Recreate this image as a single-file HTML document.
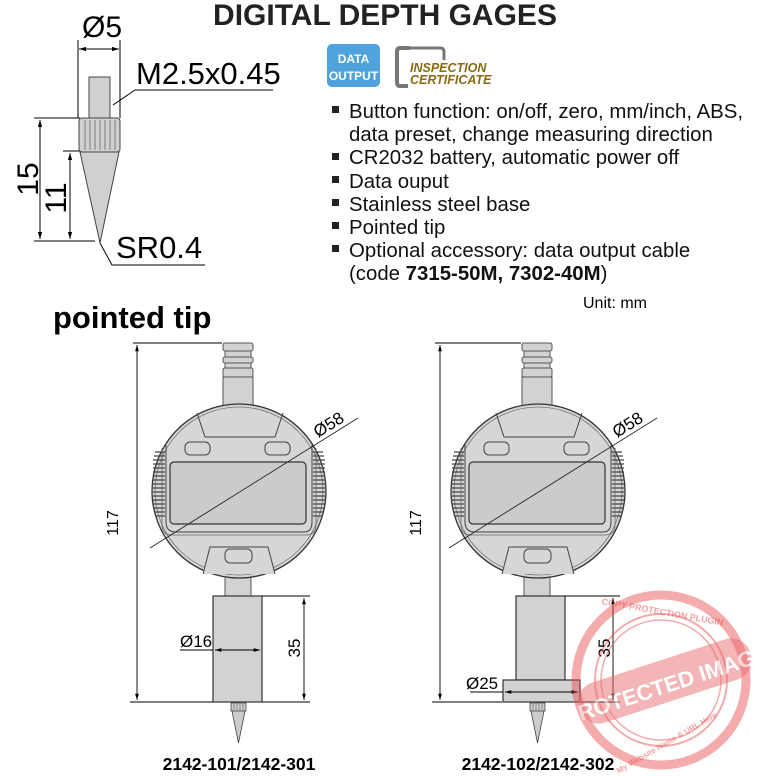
<!DOCTYPE html>
<html><head><meta charset="utf-8"><style>
html,body{margin:0;padding:0;background:#fff;width:777px;height:777px;overflow:hidden}
svg{display:block}
text{font-family:"Liberation Sans",Arial,sans-serif}
</style></head><body>
<svg width="777" height="777" viewBox="0 0 777 777" xmlns="http://www.w3.org/2000/svg">
<defs>
<marker id="a" viewBox="0 0 10 10" refX="10" refY="5" markerWidth="7" markerHeight="7" orient="auto-start-reverse"><path d="M0,2 L10,5 L0,8 z" fill="#000"/></marker>
<g id="gage">
 <rect x="223" y="377" width="30" height="30" fill="#d2d2d2" stroke="#555" stroke-width="1"/>
 <rect x="223" y="343" width="30" height="8" rx="2" fill="#d2d2d2" stroke="#555"/>
 <rect x="225" y="351" width="26" height="6" fill="#d2d2d2" stroke="#555"/>
 <rect x="223" y="357" width="30" height="6" rx="2" fill="#d2d2d2" stroke="#555"/>
 <rect x="225" y="363" width="26" height="5" fill="#d2d2d2" stroke="#555"/>
 <rect x="223" y="368" width="30" height="9" rx="2" fill="#d2d2d2" stroke="#555"/>
 <rect x="225" y="570" width="26" height="27" fill="#d2d2d2" stroke="#555"/>
 <circle cx="239" cy="491" r="87" fill="#d6d6d6" stroke="#333" stroke-width="1.3"/>
 <circle cx="239" cy="491" r="84" fill="none" stroke="#777" stroke-width="0.8"/>
 <g stroke="#444" stroke-width="1.2">
  <path d="M155,452h10M154,456h11M153,460h12M153,464h12M153,468h12M153,472h12M153,476h12M153,480h12M153,484h12M153,488h12M153,492h12M153,496h12M153,500h12M153,504h12M153,508h12M154,512h11M155,516h10"/>
  <path d="M313,452h10M313,456h11M313,460h12M313,464h12M313,468h12M313,472h12M313,476h12M313,480h12M313,484h12M313,488h12M313,492h12M313,496h12M313,500h12M313,504h12M313,508h12M313,512h11M313,516h10"/>
 </g>
 <path d="M197,413 L205,437 L275,437 L283,413" fill="none" stroke="#444"/>
 <path d="M166,445 L166,522 Q166,532 176,532 L304,532 Q312,532 312,522 L312,445" fill="none" stroke="#444"/>
 <path d="M162,448 L162,525 Q162,535 172,535 L306,535 Q316,535 316,525 L316,448" fill="none" stroke="#666" stroke-width="0.8"/>
 <rect x="185" y="442" width="25" height="13" rx="5" fill="#d6d6d6" stroke="#444"/>
 <rect x="265" y="442" width="25" height="13" rx="5" fill="#d6d6d6" stroke="#444"/>
 <rect x="170" y="462" width="136" height="62" rx="4" fill="#cbcbcb" stroke="#333" stroke-width="1.2"/>
 <path d="M203,574 L210,547 L268,547 L275,574" fill="#d6d6d6" stroke="#444"/>
 <rect x="225" y="549" width="27" height="14" rx="5" fill="#d6d6d6" stroke="#444"/>
 <line x1="150" y1="548" x2="358" y2="418" stroke="#222" stroke-width="0.9"/>
 <text x="318" y="438" font-size="17" transform="rotate(-32 318 438)">Ø58</text>
 <rect x="231" y="703" width="15" height="8" fill="#ccc" stroke="#444" stroke-width="0.8"/>
 <path d="M234,704v6M237,704v6M240,704v6M243,704v6" stroke="#666" stroke-width="0.6"/>
 <path d="M232,711 L245,711 L238.5,743 z" fill="#ccc" stroke="#444" stroke-width="0.8"/>
</g>
</defs>

<text x="385" y="25" font-size="30" font-weight="bold" text-anchor="middle" fill="#222">DIGITAL DEPTH GAGES</text>

<g stroke="#000" stroke-width="1" fill="none">
 <line x1="78" y1="40" x2="78" y2="118"/>
 <line x1="120" y1="40" x2="120" y2="118"/>
 <line x1="79" y1="49" x2="119" y2="49" marker-start="url(#a)" marker-end="url(#a)"/>
 <polyline points="113,105 135,90 273,90"/>
 <line x1="34" y1="118" x2="80" y2="118"/>
 <line x1="34" y1="241" x2="95" y2="241"/>
 <line x1="63" y1="151" x2="80" y2="151"/>
 <line x1="40" y1="120" x2="40" y2="239" marker-start="url(#a)" marker-end="url(#a)"/>
 <line x1="70" y1="153" x2="70" y2="239" marker-start="url(#a)" marker-end="url(#a)"/>
 <polyline points="100,243 112,265 205,265"/>
</g>
<rect x="89" y="77" width="21" height="41" fill="#d0d0d0" stroke="#444"/>
<rect x="79" y="118" width="41" height="34" rx="3" fill="#d0d0d0" stroke="#444"/>
<path d="M85,120v30M90,120v30M95,120v30M100,120v30M105,120v30M110,120v30M115,120v30" stroke="#666" stroke-width="0.8"/>
<path d="M80,152 L119,152 L100,243 Z" fill="#d0d0d0" stroke="#444"/>
<text x="82" y="37" font-size="30">Ø5</text>
<text x="136" y="84" font-size="31">M2.5x0.45</text>
<text x="116" y="258" font-size="31">SR0.4</text>
<text x="38" y="179" font-size="30" text-anchor="middle" transform="rotate(-90 38 179)">15</text>
<text x="66" y="198" font-size="30" text-anchor="middle" transform="rotate(-90 66 198)">11</text>

<rect x="327" y="44" width="53" height="43" rx="5" fill="#4ea3dd"/>
<text x="353.5" y="63" font-size="12" font-weight="bold" fill="#fff" text-anchor="middle">DATA</text>
<text x="353.5" y="80" font-size="12" font-weight="bold" fill="#fff" text-anchor="middle">OUTPUT</text>
<path d="M410,48 L400,48 Q397,48 397,52 L397,82 Q397,86 400,86 L408,86" fill="none" stroke="#777" stroke-width="4"/>
<path d="M400,48 L440,48 Q444,48 444,52 L444,60" fill="none" stroke="#777" stroke-width="3"/>
<text x="410" y="72" font-size="12.5" font-weight="bold" font-style="italic" fill="#8a6a10">INSPECTION</text>
<text x="410" y="84" font-size="12.5" font-weight="bold" font-style="italic" fill="#8a6a10">CERTIFICATE</text>

<g font-size="20.4" fill="#111">
 <rect x="332" y="106" width="7" height="7" fill="#222"/>
 <text x="349" y="118">Button function: on/off, zero, mm/inch, ABS,</text>
 <text x="349" y="141">data preset, change measuring direction</text>
 <rect x="332" y="153" width="7" height="7" fill="#222"/>
 <text x="349" y="164">CR2032 battery, automatic power off</text>
 <rect x="332" y="176" width="7" height="7" fill="#222"/>
 <text x="349" y="188">Data ouput</text>
 <rect x="332" y="199" width="7" height="7" fill="#222"/>
 <text x="349" y="211">Stainless steel base</text>
 <rect x="332" y="222" width="7" height="7" fill="#222"/>
 <text x="349" y="234">Pointed tip</text>
 <rect x="332" y="245" width="7" height="7" fill="#222"/>
 <text x="349" y="257">Optional accessory: data output cable</text>
 <text x="349" y="280">(code <tspan font-weight="bold">7315-50M, 7302-40M</tspan>)</text>
</g>
<text x="583" y="308" font-size="16">Unit: mm</text>
<text x="53" y="328" font-size="31" font-weight="bold">pointed tip</text>

<use href="#gage"/>
<rect x="213" y="596" width="49" height="106" fill="#d2d2d2" stroke="#333" stroke-width="1.2"/>
<g stroke="#000" stroke-width="0.9" fill="none">
 <line x1="133" y1="343" x2="222" y2="343"/>
 <line x1="130" y1="702" x2="213" y2="702"/>
 <line x1="137" y1="345" x2="137" y2="700" marker-start="url(#a)" marker-end="url(#a)"/>
 <line x1="262" y1="596" x2="310" y2="596"/>
 <line x1="262" y1="702" x2="310" y2="702"/>
 <line x1="304" y1="598" x2="304" y2="700" marker-start="url(#a)" marker-end="url(#a)"/>
 <line x1="180" y1="650" x2="213" y2="650"/>
 <line x1="215" y1="650" x2="260" y2="650" marker-start="url(#a)" marker-end="url(#a)"/>
</g>
<text x="118" y="523" font-size="16" text-anchor="middle" transform="rotate(-90 118 523)">117</text>
<text x="180" y="647" font-size="17">Ø16</text>
<text x="303" y="648" font-size="17" text-anchor="middle" transform="rotate(-90 303 648)" dy="-3">35</text>
<text x="239" y="770" font-size="17.5" font-weight="bold" text-anchor="middle">2142-101/2142-301</text>

<use href="#gage" transform="translate(299,0)"/>
<rect x="516" y="596" width="49" height="84" fill="#d2d2d2" stroke="#333" stroke-width="1.2"/>
<rect x="503" y="680" width="77" height="22" fill="#d2d2d2" stroke="#333" stroke-width="1.2"/>
<g stroke="#000" stroke-width="0.9" fill="none">
 <line x1="435" y1="343" x2="521" y2="343"/>
 <line x1="432" y1="702" x2="502" y2="702"/>
 <line x1="440" y1="345" x2="440" y2="700" marker-start="url(#a)" marker-end="url(#a)"/>
 <line x1="565" y1="596" x2="620" y2="596"/>
 <line x1="580" y1="702" x2="620" y2="702"/>
 <line x1="613" y1="598" x2="613" y2="700" marker-start="url(#a)" marker-end="url(#a)"/>
 <line x1="470" y1="692" x2="503" y2="692"/>
 <line x1="505" y1="692" x2="578" y2="692" marker-start="url(#a)" marker-end="url(#a)"/>
</g>
<text x="421" y="523" font-size="16" text-anchor="middle" transform="rotate(-90 421 523)">117</text>
<text x="466" y="689" font-size="17">Ø25</text>
<text x="610" y="648" font-size="17" text-anchor="middle" transform="rotate(-90 610 648)">35</text>
<text x="538" y="770" font-size="17.5" font-weight="bold" text-anchor="middle">2142-102/2142-302</text>

<g opacity="0.45" fill="none" stroke="#e8474a">
 <circle cx="661" cy="680" r="85" stroke-width="9"/>
 <circle cx="661" cy="680" r="66" stroke-width="2"/>
 <circle cx="661" cy="680" r="60" stroke-width="1.5"/>
</g>
<g opacity="0.5">
 <rect x="575" y="660" width="180" height="42" rx="20" fill="#eb6d6f" transform="rotate(-18 665 681)"/>
 <text x="665" y="693" font-size="22" font-weight="bold" fill="#fff" text-anchor="middle" transform="rotate(-18 665 681)">PROTECTED IMAGE</text>
 <text x="662" y="615" font-size="9" font-weight="bold" fill="#e8474a" text-anchor="middle" transform="rotate(10 662 615)">COPY PROTECTION PLUGIN</text>
 <text x="668" y="745" font-size="8" font-weight="bold" fill="#e8474a" text-anchor="middle" transform="rotate(-30 668 745)">My Website Name &amp; URL Here</text>
</g>
</svg>
</body></html>
